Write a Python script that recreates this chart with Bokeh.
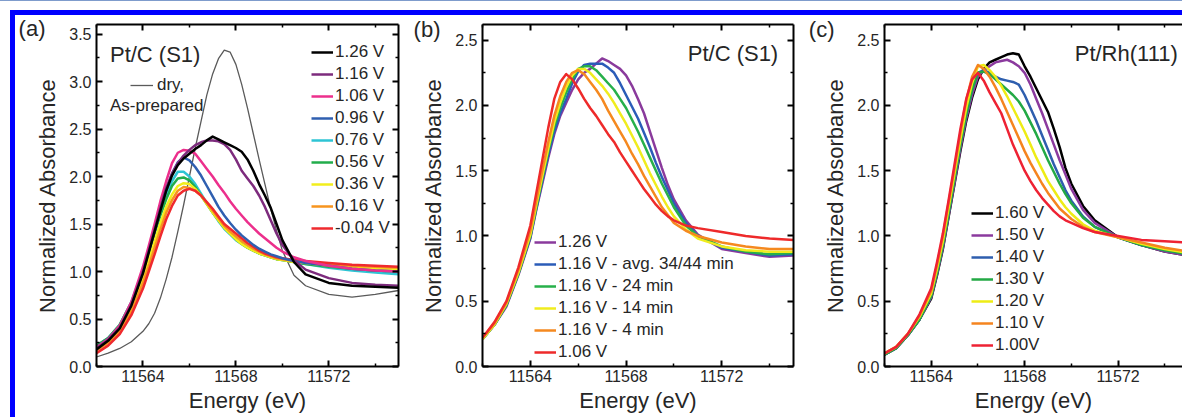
from bokeh.plotting import figure
from bokeh.models import (Range1d, LinearAxis, FixedTicker, PrintfTickFormatter,
                          CustomJSTickFormatter, Legend, LegendItem, Label, Div)
from bokeh.layouts import row, column
from bokeh.embed import file_html
from bokeh.resources import INLINE

# ---------------- data ----------------
energy = [11562.0, 11562.5, 11563.0, 11563.5,
          11564.0, 11564.25, 11564.5, 11564.75, 11565.0, 11565.25, 11565.5, 11565.75,
          11566.0, 11566.25, 11566.5, 11566.75, 11567.0, 11567.25, 11567.5, 11567.75,
          11568.0, 11568.25, 11568.5, 11568.75, 11569.0, 11569.25, 11569.5, 11569.75,
          11570.0,
          11570.5, 11571.0, 11572.0, 11573.0, 11574.0, 11575.0]

# panel (a) Pt/C (S1)
a_dry = [0.10, 0.14, 0.19, 0.26,
         0.37, 0.45, 0.56, 0.72, 0.92, 1.15, 1.42, 1.70, 2.00, 2.30, 2.58, 2.86, 3.08,
         3.24, 3.33, 3.31, 3.18, 2.97, 2.72, 2.45, 2.18, 1.92, 1.66, 1.43, 1.22,
         0.96, 0.85, 0.76, 0.73, 0.76, 0.80]
a_126 = [0.18, 0.27, 0.40, 0.64,
         0.98, 1.20, 1.42, 1.64, 1.85, 2.01, 2.12, 2.19, 2.24, 2.29, 2.33, 2.38, 2.42,
         2.39, 2.36, 2.33, 2.30, 2.26, 2.18, 2.06, 1.92, 1.80, 1.67, 1.50, 1.33,
         1.10, 0.97, 0.88, 0.85, 0.84, 0.83]
a_116 = [0.19, 0.28, 0.41, 0.65,
         1.00, 1.22, 1.44, 1.67, 1.88, 2.03, 2.14, 2.22, 2.28, 2.33, 2.36, 2.38, 2.38,
         2.37, 2.34, 2.28, 2.18, 2.06, 1.98, 1.90, 1.80, 1.68, 1.54, 1.40, 1.28,
         1.12, 1.02, 0.93, 0.88, 0.86, 0.85]
a_106 = [0.20, 0.29, 0.43, 0.68,
         1.05, 1.27, 1.50, 1.74, 1.95, 2.14, 2.25, 2.28, 2.27, 2.24, 2.16, 2.08, 2.00,
         1.91, 1.83, 1.74, 1.66, 1.59, 1.52, 1.46, 1.40, 1.35, 1.30, 1.25, 1.21,
         1.15, 1.11, 1.06, 1.03, 1.01, 1.00]
a_096 = [0.20, 0.29, 0.42, 0.66,
         1.00, 1.21, 1.42, 1.65, 1.85, 2.03, 2.15, 2.20, 2.17, 2.10, 2.01, 1.90, 1.79,
         1.68, 1.59, 1.51, 1.44, 1.38, 1.33, 1.28, 1.24, 1.21, 1.18, 1.16, 1.14,
         1.11, 1.09, 1.06, 1.03, 1.01, 1.00]
a_076 = [0.22, 0.30, 0.44, 0.68,
         1.02, 1.22, 1.42, 1.62, 1.80, 1.95, 2.05, 2.05, 2.00, 1.92, 1.82, 1.72, 1.62,
         1.53, 1.45, 1.39, 1.33, 1.29, 1.25, 1.22, 1.19, 1.17, 1.15, 1.13, 1.12,
         1.10, 1.08, 1.04, 1.01, 0.99, 0.97]
a_056 = [0.22, 0.30, 0.44, 0.67,
         1.00, 1.20, 1.40, 1.59, 1.76, 1.90, 1.98, 1.99, 1.96, 1.89, 1.80, 1.71, 1.62,
         1.54, 1.46, 1.40, 1.34, 1.29, 1.25, 1.22, 1.19, 1.17, 1.15, 1.13, 1.12,
         1.10, 1.08, 1.05, 1.03, 1.01, 1.00]
a_036 = [0.19, 0.27, 0.40, 0.62,
         0.94, 1.13, 1.32, 1.51, 1.68, 1.81, 1.90, 1.93, 1.92, 1.87, 1.80, 1.71, 1.62,
         1.54, 1.46, 1.40, 1.34, 1.29, 1.25, 1.22, 1.19, 1.17, 1.15, 1.13, 1.12,
         1.10, 1.09, 1.06, 1.04, 1.03, 1.02]
a_016 = [0.17, 0.25, 0.37, 0.58,
         0.88, 1.06, 1.25, 1.44, 1.62, 1.75, 1.85, 1.89, 1.88, 1.85, 1.80, 1.72, 1.64,
         1.56, 1.48, 1.42, 1.37, 1.32, 1.28, 1.24, 1.21, 1.18, 1.16, 1.14, 1.13,
         1.11, 1.10, 1.08, 1.06, 1.05, 1.04]
a_m004 = [0.14, 0.22, 0.34, 0.54,
          0.82, 1.00, 1.18, 1.37, 1.55, 1.69, 1.80, 1.85, 1.87, 1.85, 1.80, 1.73, 1.66,
          1.58, 1.50, 1.45, 1.40, 1.35, 1.30, 1.26, 1.22, 1.19, 1.17, 1.15, 1.14,
          1.12, 1.11, 1.09, 1.07, 1.06, 1.05]
a_labels = ["1.26 V", "1.16 V", "1.06 V", "0.96 V", "0.76 V", "0.56 V", "0.36 V", "0.16 V", "-0.04 V"]
a_colors = ["#000000", "#7d2b7d", "#ec2f8c", "#2f5fb0", "#2ec4d4", "#22ad4b", "#f2ee1c", "#f7941e", "#ef2a2e"]

# panel (b) Pt/C (S1), time series at 1.16 V
b_126 = [0.21, 0.32, 0.46, 0.70,
         0.98, 1.20, 1.40, 1.60, 1.78, 1.92, 2.02, 2.12, 2.20, 2.25, 2.28, 2.32, 2.36,
         2.34, 2.31, 2.28, 2.23, 2.15, 2.05, 1.94, 1.80, 1.66, 1.52, 1.39, 1.28,
         1.12, 1.01, 0.90, 0.87, 0.84, 0.85]
b_avg = [0.21, 0.32, 0.47, 0.71,
         0.99, 1.21, 1.42, 1.62, 1.80, 1.94, 2.05, 2.17, 2.26, 2.31, 2.32, 2.32, 2.32,
         2.29, 2.25, 2.17, 2.08, 1.99, 1.90, 1.79, 1.68, 1.56, 1.45, 1.35, 1.25,
         1.10, 1.00, 0.91, 0.88, 0.85, 0.86]
b_24 = [0.21, 0.32, 0.47, 0.71,
        1.00, 1.22, 1.44, 1.65, 1.84, 1.98, 2.10, 2.20, 2.28, 2.30, 2.30, 2.27, 2.22,
        2.17, 2.12, 2.05, 1.98, 1.89, 1.80, 1.70, 1.60, 1.50, 1.40, 1.31, 1.22,
        1.08, 1.00, 0.92, 0.88, 0.86, 0.87]
b_14 = [0.21, 0.32, 0.48, 0.72,
        1.01, 1.24, 1.46, 1.67, 1.87, 2.02, 2.14, 2.23, 2.28, 2.28, 2.25, 2.20, 2.15,
        2.09, 2.02, 1.94, 1.86, 1.77, 1.68, 1.58, 1.48, 1.39, 1.30, 1.22, 1.15,
        1.05, 0.98, 0.92, 0.89, 0.88, 0.88]
b_4 = [0.22, 0.33, 0.49, 0.74,
       1.04, 1.27, 1.50, 1.72, 1.92, 2.07, 2.18, 2.25, 2.27, 2.24, 2.18, 2.12, 2.05,
       1.96, 1.88, 1.80, 1.72, 1.63, 1.55, 1.46, 1.38, 1.30, 1.22, 1.16, 1.10,
       1.04, 1.00, 0.95, 0.92, 0.90, 0.90]
b_106 = [0.22, 0.34, 0.50, 0.76,
         1.08, 1.33, 1.58, 1.83, 2.05, 2.18, 2.24, 2.20, 2.13, 2.05, 1.98, 1.92, 1.85,
         1.78, 1.72, 1.64, 1.57, 1.50, 1.43, 1.36, 1.30, 1.24, 1.19, 1.15, 1.12,
         1.08, 1.06, 1.03, 1.00, 0.98, 0.97]
b_labels = ["1.26 V", "1.16 V - avg. 34/44 min", "1.16 V - 24 min", "1.16 V - 14 min", "1.16 V - 4 min", "1.06 V"]
b_colors = ["#8a3a9c", "#2b5cb8", "#27b04a", "#f0ec1e", "#f5891f", "#ee2a2a"]

# panel (c) Pt/Rh(111)
c_160 = [0.09, 0.14, 0.24, 0.36,
         0.52, 0.70, 0.90, 1.15, 1.40, 1.65, 1.88, 2.06, 2.20, 2.28, 2.33, 2.35, 2.37,
         2.39, 2.40, 2.39, 2.30, 2.22, 2.13, 2.04, 1.95, 1.82, 1.68, 1.52, 1.40,
         1.23, 1.12, 0.99, 0.93, 0.88, 0.85]
c_150 = [0.09, 0.14, 0.24, 0.36,
         0.53, 0.71, 0.91, 1.16, 1.41, 1.67, 1.90, 2.08, 2.22, 2.27, 2.30, 2.33, 2.34,
         2.35, 2.33, 2.30, 2.25, 2.16, 2.05, 1.94, 1.82, 1.70, 1.58, 1.47, 1.36,
         1.20, 1.10, 0.99, 0.93, 0.88, 0.85]
c_140 = [0.09, 0.14, 0.24, 0.36,
         0.54, 0.72, 0.93, 1.18, 1.44, 1.70, 1.93, 2.12, 2.25, 2.27, 2.25, 2.22, 2.20,
         2.19, 2.18, 2.16, 2.08, 1.98, 1.88, 1.77, 1.66, 1.55, 1.45, 1.35, 1.27,
         1.15, 1.07, 0.99, 0.93, 0.89, 0.86]
c_130 = [0.09, 0.14, 0.24, 0.36,
         0.54, 0.72, 0.93, 1.18, 1.44, 1.70, 1.93, 2.12, 2.25, 2.26, 2.24, 2.20, 2.16,
         2.12, 2.08, 2.03, 1.96, 1.87, 1.78, 1.68, 1.58, 1.49, 1.40, 1.32, 1.25,
         1.14, 1.07, 0.99, 0.93, 0.89, 0.86]
c_120 = [0.10, 0.15, 0.25, 0.38,
         0.56, 0.75, 0.96, 1.22, 1.48, 1.74, 1.98, 2.17, 2.30, 2.31, 2.27, 2.22, 2.15,
         2.07, 1.98, 1.89, 1.80, 1.70, 1.60, 1.51, 1.42, 1.35, 1.28, 1.22, 1.17,
         1.09, 1.04, 0.99, 0.94, 0.90, 0.87]
c_110 = [0.10, 0.15, 0.25, 0.39,
         0.58, 0.78, 1.00, 1.26, 1.52, 1.79, 2.04, 2.22, 2.31, 2.28, 2.22, 2.14, 2.05,
         1.95, 1.85, 1.75, 1.65, 1.56, 1.48, 1.40, 1.33, 1.27, 1.21, 1.17, 1.13,
         1.07, 1.03, 0.99, 0.95, 0.91, 0.88]
c_100 = [0.10, 0.15, 0.25, 0.40,
         0.60, 0.80, 1.02, 1.28, 1.55, 1.82, 2.05, 2.20, 2.25, 2.19, 2.10, 2.02, 1.94,
         1.82, 1.70, 1.60, 1.50, 1.42, 1.35, 1.29, 1.24, 1.19, 1.15, 1.12, 1.10,
         1.06, 1.03, 1.00, 0.97, 0.96, 0.95]
c_labels = ["1.60 V", "1.50 V", "1.40 V", "1.30 V", "1.20 V", "1.10 V", "1.00V"]
c_colors = ["#000000", "#8b3a9e", "#2e5eae", "#23a945", "#eeec15", "#f5841f", "#ee2233"]

x_major = [11564, 11568, 11572]
x_minor = [11562, 11566, 11570, 11574]
ya_major = [0.0, 0.5, 1.0, 1.5, 2.0, 2.5, 3.0, 3.5]
ya_minor = [0.25, 0.75, 1.25, 1.75, 2.25, 2.75, 3.25]
ybc_major = [0.0, 0.5, 1.0, 1.5, 2.0, 2.5]
ybc_minor = [0.25, 0.75, 1.25, 1.75, 2.25]
panel_tags = ["(a)", "(b)", "(c)"]

FONT = "Liberation Sans"
TXT = "#262626"
BLUE = "#0000ff"
FIG_H = 402


def style_axis(ax, labelled):
    ax.axis_line_width = 2
    ax.axis_line_color = "black"
    ax.major_tick_in = 6
    ax.major_tick_out = 0
    ax.major_tick_line_width = 2
    ax.minor_tick_in = 3
    ax.minor_tick_out = 0
    ax.minor_tick_line_width = 1.5
    if labelled:
        ax.major_label_text_font = FONT
        ax.major_label_text_font_size = "16px"
        ax.major_label_text_color = TXT
        ax.axis_label_text_font = FONT
        ax.axis_label_text_font_size = "22px"
        ax.axis_label_text_font_style = "normal"
        ax.axis_label_text_color = TXT
    else:
        ax.major_label_text_font_size = "0px"
        ax.major_label_text_color = None
        ax.major_label_standoff = 0


def make_fig(width, ymax, ymaj, ymin, xend, right_axis, min_right, tag, tag_y, tag_standoff):
    p = figure(width=width, height=FIG_H, x_range=Range1d(11562, xend),
               y_range=Range1d(0, ymax), output_backend="svg", toolbar_location=None,
               min_border_left=68, min_border_right=min_right, min_border_top=9,
               min_border_bottom=51)
    p.xgrid.visible = False
    p.ygrid.visible = False
    p.outline_line_color = None
    p.background_fill_color = "white"
    p.border_fill_color = "white"
    p.xaxis.ticker = FixedTicker(ticks=x_major, minor_ticks=x_minor)
    p.yaxis.ticker = FixedTicker(ticks=ymaj, minor_ticks=ymin)
    p.xaxis.formatter = PrintfTickFormatter(format="%d")
    p.yaxis.formatter = PrintfTickFormatter(format="%.1f")
    p.xaxis.axis_label = "Energy (eV)"
    p.yaxis.axis_label = "Normalized Absorbance"
    style_axis(p.xaxis[0], True)
    style_axis(p.yaxis[0], True)
    p.xaxis.major_label_standoff = 3
    p.xaxis.axis_label_standoff = 3
    p.yaxis.major_label_standoff = 5
    p.yaxis.axis_label_standoff = 6
    top = LinearAxis(ticker=FixedTicker(ticks=x_major, minor_ticks=x_minor))
    style_axis(top, False)
    p.add_layout(top, "above")
    if right_axis:
        rt = LinearAxis(ticker=FixedTicker(ticks=ymaj, minor_ticks=ymin))
        style_axis(rt, False)
        p.add_layout(rt, "right")
    # panel tag "(a)" etc. placed just outside the frame, left of the y tick labels
    tag_ax = LinearAxis(ticker=FixedTicker(ticks=[tag_y], minor_ticks=[]),
                        formatter=CustomJSTickFormatter(code="return '%s'" % tag))
    tag_ax.axis_line_color = None
    tag_ax.major_tick_line_color = None
    tag_ax.minor_tick_line_color = None
    tag_ax.major_label_text_font = FONT
    tag_ax.major_label_text_font_size = "22px"
    tag_ax.major_label_text_color = TXT
    tag_ax.major_label_standoff = tag_standoff
    p.add_layout(tag_ax, "left")
    return p


def add_legend(p, renderers, labels, x, y):
    items = [LegendItem(label=l, renderers=[r]) for l, r in zip(labels, renderers)]
    leg = Legend(items=items, location=(x, y), border_line_color=None,
                 background_fill_alpha=0, padding=0, margin=0, spacing=2,
                 glyph_width=22, glyph_height=20, label_height=20, label_standoff=2,
                 label_text_font=FONT, label_text_font_size="17px",
                 label_text_color=TXT)
    p.add_layout(leg)
    return leg


def add_text(p, x, y, text, size, align="left"):
    p.add_layout(Label(x=x, y=y, text=text, text_font=FONT, text_font_size=size,
                       text_color=TXT, text_baseline="middle", text_align=align))


LW = 2.5

# ---------------- panel (a) ----------------
pa = make_fig(395, 3.6, ya_major, ya_minor, 11575, True, 12, panel_tags[0], 3.555, -19)
r_dry = pa.line(energy, a_dry, line_color="#5a5a5a", line_width=1.3)
a_series = [a_126, a_116, a_106, a_096, a_076, a_056, a_036, a_016, a_m004]
a_r = [None] * 9
for i in [4, 5, 6, 7, 8, 3, 2, 1, 0]:
    a_r[i] = pa.line(energy, a_series[i], line_color=a_colors[i], line_width=LW,
                     line_join="round")
add_legend(pa, a_r, a_labels, 215, 128)
leg_dry = add_legend(pa, [r_dry], ["dry,"], 34, 271)
leg_dry.glyph_width = 23
leg_dry.label_standoff = 4
add_text(pa, 11562.58, 3.28, "Pt/C (S1)", "22px")
add_text(pa, 11562.58, 2.745, "As-prepared", "17px")

# ---------------- panel (b) ----------------
pb = make_fig(395, 2.62, ybc_major, ybc_minor, 11575, True, 12, panel_tags[1], 2.58, -28)
b_series = [b_126, b_avg, b_24, b_14, b_4, b_106]
b_r = [pb.line(energy, s, line_color=c, line_width=LW, line_join="round")
       for s, c in zip(b_series, b_colors)]
add_legend(pb, b_r, b_labels, 52, 4)
add_text(pb, 11574.36, 2.40, "Pt/C (S1)", "22px", "right")

# ---------------- panel (c) ----------------
pc = make_fig(377, 2.62, ybc_major, ybc_minor, 11574.76, False, 0, panel_tags[2], 2.58, -20)
c_series = [c_160, c_150, c_140, c_130, c_120, c_110, c_100]
c_r = [pc.line(energy, s, line_color=c, line_width=LW, line_join="round")
       for s, c in zip(c_series, c_colors)]
add_legend(pc, c_r, c_labels, 87, 11)
add_text(pc, 11574.56, 2.40, "Pt/Rh(111)", "22px", "right")

# ---------------- frame & layout ----------------
top_line = Div(width=1182, height=1, margin=0, styles={"background-color": "#7f9ccc"})
top_gap = Div(width=1182, height=9, margin=0)
top_band = row(Div(width=10, height=5, margin=0),
               Div(width=1172, height=5, margin=0, styles={"background-color": BLUE}))
main = row(Div(width=10, height=FIG_H, margin=0),
           Div(width=5, height=FIG_H, margin=0, styles={"background-color": BLUE}),
           pa, pb, pc)
layout = column(top_line, top_gap, top_band, main)

open("out.html", "w").write(file_html(layout, INLINE))
